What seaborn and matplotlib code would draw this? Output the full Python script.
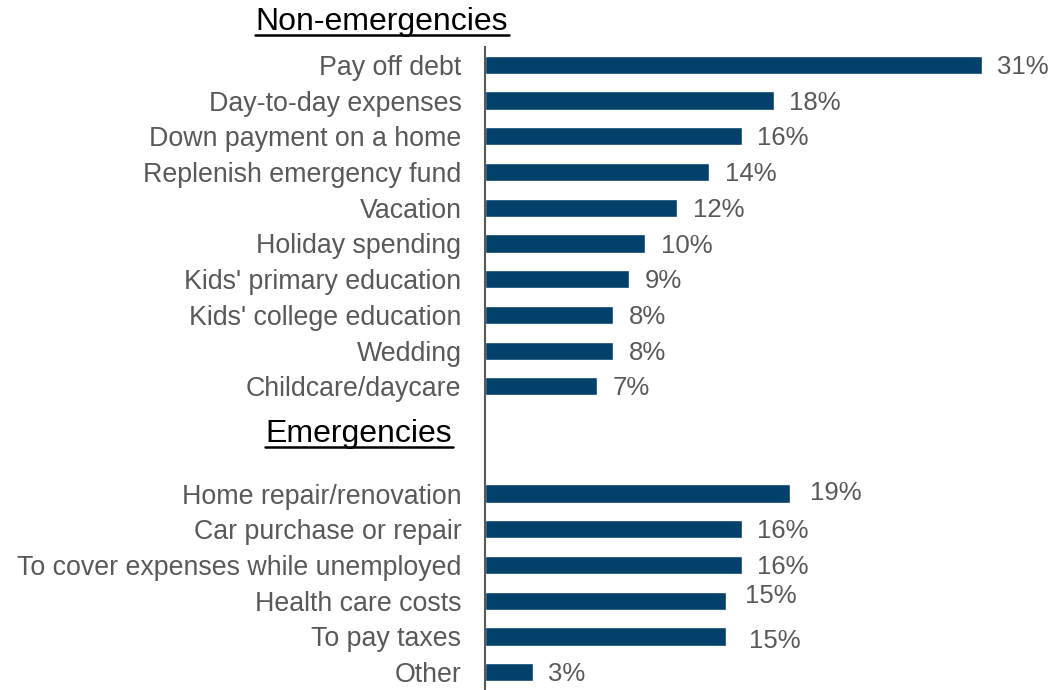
import pandas as pd
import matplotlib
matplotlib.use("Agg")
from matplotlib import pyplot as plt
from matplotlib.lines import Line2D
import seaborn as sns

# data
non_emerg_labels = ["Pay off debt", "Day-to-day expenses", "Down payment on a home",
                    "Replenish emergency fund", "Vacation", "Holiday spending",
                    "Kids' primary education", "Kids' college education", "Wedding",
                    "Childcare/daycare"]
non_emerg_values = [31, 18, 16, 14, 12, 10, 9, 8, 8, 7]
emerg_labels = ["Home repair/renovation", "Car purchase or repair",
                "To cover expenses while unemployed", "Health care costs",
                "To pay taxes", "Other"]
emerg_values = [19, 16, 16, 15, 15, 3]
spacers = [" ", "  "]

bar_color = "#03416A"
grey = "#595959"

df = pd.DataFrame({
    "reason": non_emerg_labels + emerg_labels,
    "pct": non_emerg_values + emerg_values,
})
order = non_emerg_labels + spacers + emerg_labels

sns.set_theme(style="white")
plt.rcParams["font.family"] = ["Liberation Sans", "DejaVu Sans"]

fig = plt.figure(figsize=(10.55, 6.9), dpi=100)
ax = fig.add_axes([485 / 1055, 0.0, 570 / 1055, 1 - 47 / 690])

sns.barplot(data=df, x="pct", y="reason", order=order, orient="h",
            color=bar_color, saturation=1, width=0.51, ax=ax)

ax.set_xlim(0, 35.55)
ax.set_ylim(len(order) - 0.5, -0.5)
ax.set_xlabel("")
ax.set_ylabel("")
ax.set_xticks([])
ax.tick_params(axis="y", length=0, pad=17, labelsize=19.3, labelcolor=grey)
for s in ["top", "right", "bottom"]:
    ax.spines[s].set_visible(False)
ax.spines["left"].set_color(grey)
ax.spines["left"].set_linewidth(1.5)

value_texts = []
for cont in ax.containers:
    value_texts += ax.bar_label(cont, labels=[f"{v:.0f}%" for v in cont.datavalues],
                                padding=11, fontsize=18.5, color=grey)

# labels sit a touch low in the original, a few are nudged
for t in value_texts:
    t.xyann = (11, -1.5)
emerg_texts = value_texts[len(non_emerg_labels):]
emerg_texts[0].xyann = (15, 0.5)    # 19%
emerg_texts[3].xyann = (14, 3.5)    # health care 15%
emerg_texts[4].xyann = (17, -3)     # to pay taxes 15%

# section headers with underline
headers = [("Non-emergencies", -6.43, -1.2), ("Emergencies", -7.86, 10.34)]
fig.canvas.draw()
renderer = fig.canvas.get_renderer()
for txt, x, y in headers:
    t = ax.text(x, y, txt, ha="center", va="center", fontsize=23,
                color="black", clip_on=False)
    bb = t.get_window_extent(renderer=renderer)
    y_line = bb.y0 + 2
    fig.add_artist(Line2D([bb.x0 - 1, bb.x1 + 1], [y_line, y_line],
                          transform=None, color="black", linewidth=1.8))

fig.savefig("out.png", dpi=100)
